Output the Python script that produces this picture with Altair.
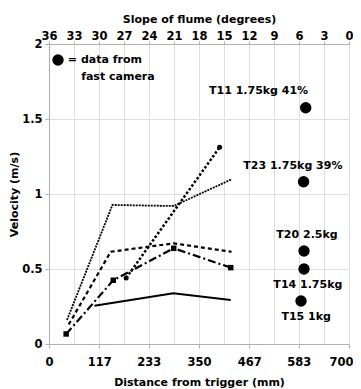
import altair as alt
import pandas as pd

# ---- axis ticks ----
distance_ticks = [0, 117, 233, 350, 467, 583, 700]
slope_ticks = [36, 33, 30, 27, 24, 21, 18, 15, 12, 9, 6, 3, 0]
velocity_ticks = [0, 0.5, 1, 1.5, 2]

# ---- line series (distance mm, velocity m/s) ----
solid_x = [106, 290, 424]
solid_y = [0.255, 0.338, 0.293]
dashdot_x = [40, 150, 291, 424]
dashdot_y = [0.067, 0.425, 0.638, 0.509]
dash_x = [46, 144, 291, 426]
dash_y = [0.13, 0.615, 0.671, 0.615]
fine_x = [42, 148, 291, 426]
fine_y = [0.16, 0.927, 0.92, 1.098]
steep_x = [180, 398]
steep_y = [0.44, 1.311]

# ---- fast camera points ----
camera_labels = ["T11 1.75kg 41%", "T23 1.75kg 39%", "T20 2.5kg", "T14 1.75kg", "T15 1kg"]
camera_x = [599, 594, 595, 595, 588]
camera_y = [1.575, 1.082, 0.62, 0.50, 0.287]
label_x = [489, 569, 602, 604, 600]
label_y = [1.69, 1.19, 0.727, 0.393, 0.18]

# ---- key ----
key_x = [21]
key_y = [1.893]
key_text = ["= data from", "fast camera"]
key_text_x = [44, 75]
key_text_y = [1.893, 1.78]

FONT = "DejaVu Sans"

xscale = alt.Scale(domain=[0, 700], nice=False, zero=False)
yscale = alt.Scale(domain=[0, 2], nice=False)

xaxis = alt.Axis(values=distance_ticks, grid=False, title="Distance from trigger (mm)",
                 tickSize=4, labelPadding=8, titlePadding=9,
                 labelFlush=True, labelFlushOffset=4)
yaxis = alt.Axis(values=velocity_ticks, format="~g", grid=True, title="Velocity (m/s)",
                 tickSize=4, labelPadding=3, titleX=-30)

X = lambda f: alt.X(f + ":Q", scale=xscale, axis=xaxis)
Y = lambda f: alt.Y(f + ":Q", scale=yscale, axis=yaxis)


def line_layer(xs, ys, dash, width):
    df = pd.DataFrame({"d": xs, "v": ys})
    kw = dict(color="black", strokeWidth=width)
    if dash:
        kw["strokeDash"] = dash
    return alt.Chart(df).mark_line(**kw).encode(x=X("d"), y=Y("v"))


layers = [
    line_layer(solid_x, solid_y, None, 2),
    line_layer(dashdot_x, dashdot_y, [8, 3, 2, 3], 2.2),
    line_layer(dash_x, dash_y, [4, 3], 2.2),
    line_layer(fine_x, fine_y, [2, 1], 1.8),
    line_layer(steep_x, steep_y, [2.5, 2], 2.5),
]

sq_df = pd.DataFrame({"d": dashdot_x, "v": dashdot_y})
layers.append(alt.Chart(sq_df).mark_point(shape="square", filled=True, color="black", size=30, opacity=1)
              .encode(x=X("d"), y=Y("v")))
st_df = pd.DataFrame({"d": steep_x, "v": steep_y})
layers.append(alt.Chart(st_df).mark_point(shape="circle", filled=True, color="black", size=25, opacity=1)
              .encode(x=X("d"), y=Y("v")))

cam_df = pd.DataFrame({"d": camera_x, "v": camera_y})
layers.append(alt.Chart(cam_df).mark_point(shape="circle", filled=True, color="black", size=130, opacity=1)
              .encode(x=X("d"), y=Y("v")))
lab_df = pd.DataFrame({"d": label_x, "v": label_y, "t": camera_labels})
layers.append(alt.Chart(lab_df).mark_text(font=FONT, fontWeight="bold", fontSize=11, color="black",
                                          align="center", baseline="middle")
              .encode(x=X("d"), y=Y("v"), text="t:N"))

key_df = pd.DataFrame({"d": key_x, "v": key_y})
layers.append(alt.Chart(key_df).mark_point(shape="circle", filled=True, color="black", size=130, opacity=1)
              .encode(x=X("d"), y=Y("v")))
kt_df = pd.DataFrame({"d": key_text_x, "v": key_text_y, "t": key_text})
layers.append(alt.Chart(kt_df).mark_text(font=FONT, fontWeight="bold", fontSize=11, color="black",
                                         align="left", baseline="middle")
              .encode(x=X("d"), y=Y("v"), text="t:N"))

main = alt.layer(*layers)

slope_df = pd.DataFrame({"s": slope_ticks})
top = alt.Chart(slope_df).mark_point(opacity=0).encode(
    x=alt.X("s:Q", scale=alt.Scale(domain=[36, 0], nice=False, zero=False),
            axis=alt.Axis(orient="top", values=slope_ticks, grid=True, title="Slope of flume (degrees)",
                          tickSize=3, labelPadding=0, titlePadding=6, labelFlush=False)),
)

chart = alt.layer(main, top).resolve_scale(x="independent").properties(
    width=300, height=300,
    autosize=alt.AutoSizeParams(type="none"),
    padding={"left": 41, "top": 36, "right": 4, "bottom": 45},
).configure_axis(
    labelFont=FONT, labelFontWeight="bold", labelFontSize=11.5, labelColor="black",
    titleFont=FONT, titleFontWeight="bold", titleFontSize=11, titleColor="black",
    domainColor="#b0b0b0", tickColor="#b0b0b0", gridColor="#dedede", gridWidth=1,
).configure_view(stroke="#b0b0b0", strokeWidth=1)

chart.save("out.html", embed_options={"renderer": "svg", "actions": False})
